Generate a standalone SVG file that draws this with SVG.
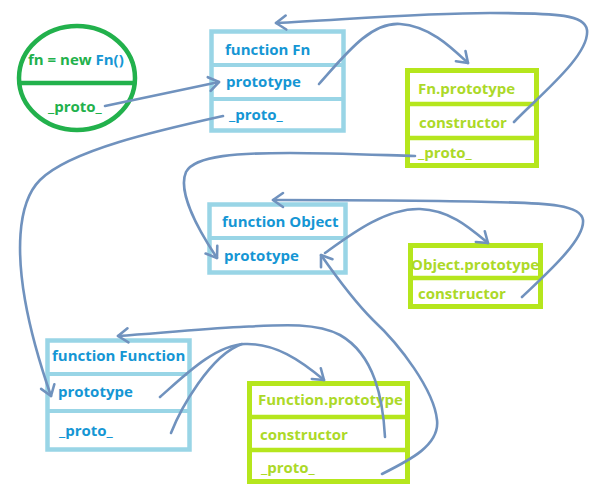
<svg xmlns="http://www.w3.org/2000/svg" width="590" height="489" viewBox="0 0 590 489">
<defs>
<marker id="arr" markerUnits="userSpaceOnUse" markerWidth="24" markerHeight="24" refX="0" refY="0" viewBox="-12 -12 24 24" orient="auto" overflow="visible">
<path d="M-10,-7 L0,0 L-10,7" fill="none" stroke="#7092be" stroke-width="2.6" stroke-linecap="round" stroke-linejoin="round"/>
</marker>
</defs>
<style>
.t{font-family:"Open Sans","Liberation Sans",sans-serif;font-weight:bold;font-size:15px}
.b{fill:#1596d4}
.l{fill:#acd928}
.g{fill:#22b14c}
.bb{fill:#fff;stroke:#99d5e6;stroke-width:4.5}
.bl{stroke:#99d5e6;stroke-width:4}
.lb{fill:#fff;stroke:#b5e61d;stroke-width:5}
.ll{stroke:#b5e61d;stroke-width:4.5}
.c{fill:none;stroke:#7092be;stroke-width:2.6;stroke-linecap:round}
.a{marker-end:url(#arr)}
</style>
<rect width="590" height="489" fill="#fff"/>

<g id="fn">
<ellipse cx="77" cy="78" rx="58" ry="52" fill="#fff" stroke="#22b14c" stroke-width="4.5"/>
<line x1="19" y1="83" x2="135" y2="83" stroke="#22b14c" stroke-width="4.5"/>
<text class="t" x="28" y="65"><tspan class="g">fn = new </tspan><tspan class="b">Fn()</tspan></text>
<text class="t g" x="48" y="112">_proto_</text>
</g>

<g id="functionFn">
<rect class="bb" x="211.5" y="31.5" width="132" height="99"/>
<line class="bl" x1="211" y1="65" x2="344" y2="65"/>
<line class="bl" x1="211" y1="99" x2="344" y2="99"/>
<text class="t b" x="225" y="55">function Fn</text>
<text class="t b" x="226" y="87">prototype</text>
<text class="t b" x="229" y="120">_proto_</text>
</g>

<g id="FnPrototype">
<rect class="lb" x="407.5" y="70.5" width="129" height="95"/>
<line class="ll" x1="407" y1="104" x2="537" y2="104"/>
<line class="ll" x1="407" y1="138" x2="537" y2="138"/>
<text class="t l" x="418" y="94">Fn.prototype</text>
<text class="t l" x="419" y="128">constructor</text>
<text class="t l" x="418" y="158">_proto_</text>
</g>

<g id="functionObject">
<rect class="bb" x="209.5" y="204.5" width="136" height="68"/>
<line class="bl" x1="209" y1="238" x2="346" y2="238"/>
<text class="t b" x="222" y="227">function Object</text>
<text class="t b" x="224" y="261">prototype</text>
</g>

<g id="ObjectPrototype">
<rect class="lb" x="410.5" y="245.5" width="130" height="61"/>
<line class="ll" x1="410" y1="278" x2="541" y2="278"/>
<text class="t l" x="411" y="270">Object.prototype</text>
<text class="t l" x="418" y="299">constructor</text>
</g>

<g id="functionFunction">
<rect class="bb" x="47.5" y="340.5" width="142" height="109"/>
<line class="bl" x1="47" y1="374" x2="190" y2="374"/>
<line class="bl" x1="47" y1="411" x2="190" y2="411"/>
<text class="t b" x="52" y="361">function Function</text>
<text class="t b" x="58" y="397">prototype</text>
<text class="t b" x="59" y="436">_proto_</text>
</g>

<g id="FunctionPrototype">
<rect class="lb" x="249.5" y="383.5" width="158" height="98"/>
<line class="ll" x1="249" y1="417" x2="408" y2="417"/>
<line class="ll" x1="249" y1="450" x2="408" y2="450"/>
<text class="t l" x="258" y="405">Function.prototype</text>
<text class="t l" x="260" y="440">constructor</text>
<text class="t l" x="261" y="473">_proto_</text>
</g>

<g id="connectors">
<path class="c a" d="M105,106 L219,82"/>
<path class="c a" d="M319,84 C345,55 370,22 400,24 C430,26 452,48 468,63"/>
<path class="c a" d="M514,122 C540,95 590,55 587,30 C585,15 560,13 490,13 C420,13 340,20 276,23"/>
<path class="c a" d="M415,156 C380,155 330,153 290,153 C240,153 195,155 186,172 C178,190 195,225 217,258"/>
<path class="c a" d="M223,116 C160,130 70,150 40,180 C15,205 18,260 25,300 C32,340 42,370 51,396"/>
<path class="c a" d="M522,297 C545,275 585,240 583,220 C581,205 550,203 490,202 C420,200 340,200 273,200"/>
<path class="c a" d="M325,253 C350,235 385,208 420,209 C450,210 470,228 488,243"/>
<path class="c a" d="M382,474 C410,460 440,445 437,420 C434,390 400,345 373,320 C355,302 335,275 321,255"/>
<path class="c a" d="M385,437 C383,400 375,355 340,335 C315,322 280,325 240,327 C200,329 160,333 118,336"/>
<path class="c a" d="M160,397 C185,375 215,345 245,344 C275,343 300,360 324,380"/>
<path class="c" d="M171,433 C180,410 210,355 242,344"/>
</g>
</svg>
